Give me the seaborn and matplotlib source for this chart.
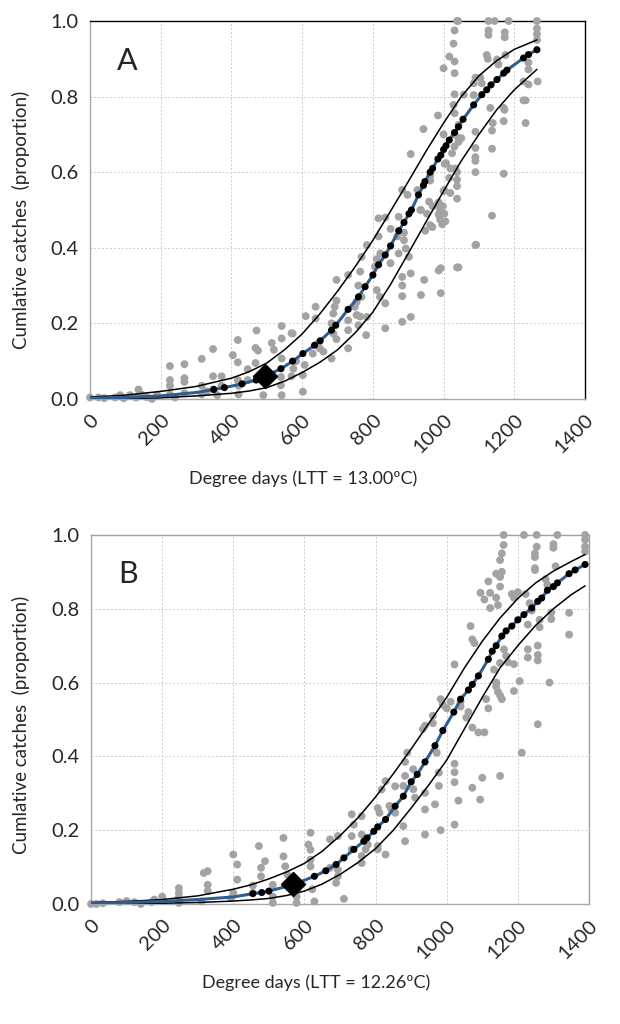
import matplotlib
matplotlib.use("Agg")
import matplotlib.pyplot as plt
import seaborn as sns
import numpy as np
import pandas as pd

# ---------------- Panel A data (LTT = 13.00ºC) ----------------
a_obs_x = [0, 24, 40, 71, 85, 95, 113, 130, 137, 145, 160, 175, 190,
           226, 226, 226, 226, 240, 267, 267, 267, 267,
           316, 316, 316, 330, 348, 348, 348, 360, 372, 372,
           404, 418, 418, 418, 420, 420, 446, 446, 471, 468, 475, 468,
           490, 514, 520, 542, 542, 542, 542, 570, 570,
           540, 540, 573, 583, 575, 607, 602, 602, 630, 610, 638, 638, 645, 650, 660,
           683, 683, 688, 697, 697, 697, 692, 688, 730, 764, 759, 768, 811, 820, 835,
           754, 749, 754, 764, 783, 781, 835, 730, 730, 759, 730,
           816, 835, 873, 850, 888, 869, 888, 816, 811, 821, 806, 783, 768, 850, 873,
           902, 893, 883, 907, 883, 883, 936, 945, 992, 992, 883, 907, 907, 883, 898,
           926, 936, 959, 969, 1007, 1002, 998, 1002, 1005, 1042, 1092,
           1038, 1041, 1031, 1028, 1016, 1031, 1031, 1000, 1127, 1144, 1127, 1127,
           1173, 1173, 1184, 1264, 1264, 1264, 1264, 1122, 1125, 1151, 1155, 1090,
           1104, 1085, 1108, 1175, 1240, 1240, 1226, 1240, 1031, 1057, 1085, 1028,
           1031, 984, 1132, 1170, 1172, 1226, 943, 1000, 1031, 1042, 1139, 1170,
           1137, 1090, 1050, 1042, 1042, 1031, 1137, 1024, 1090, 1090, 1090, 1003,
           1019, 1033, 1038, 1090, 1170, 962, 962, 1016, 1038, 1038, 1000, 1019,
           1038, 986, 986, 990, 986, 990, 996, 934, 953, 962, 948, 968, 1137, 1090,
           986, 1038, 1232, 1232, 1266]
a_obs_y = [0.004, 0.004, 0.002, 0.004, 0.01, 0.002, 0.01, 0.004, 0.025, 0.012, 0.005, 0.0, 0.01,
           0.087, 0.05, 0.035, 0.012, 0.004, 0.092, 0.055, 0.045, 0.015,
           0.106, 0.035, 0.012, 0.02, 0.132, 0.06, 0.025, 0.01, 0.06, 0.035,
           0.116, 0.156, 0.097, 0.05, 0.035, 0.012, 0.079, 0.05, 0.181, 0.135, 0.128, 0.095,
           0.01, 0.148, 0.13, 0.193, 0.16, 0.107, 0.01, 0.174, 0.06,
           0.058, 0.036, 0.173, 0.10, 0.08, 0.09, 0.063, 0.019, 0.12, 0.219, 0.244, 0.213, 0.147, 0.134, 0.125,
           0.107, 0.2, 0.173, 0.158, 0.315, 0.26, 0.244, 0.226, 0.328, 0.337, 0.30, 0.27, 0.288, 0.27, 0.253,
           0.257, 0.244, 0.222, 0.218, 0.217, 0.169, 0.187, 0.208, 0.182, 0.195, 0.134,
           0.478, 0.48, 0.482, 0.45, 0.44, 0.43, 0.42, 0.43, 0.37, 0.385, 0.35, 0.407, 0.376, 0.359, 0.385,
           0.376, 0.398, 0.323, 0.332, 0.30, 0.272, 0.275, 0.315, 0.346, 0.28, 0.204, 0.217, 0.648, 0.553, 0.54,
           0.553, 0.50, 0.522, 0.51, 0.624, 0.553, 0.51, 0.49, 0.47, 0.348, 0.408,
           1.0, 1.0, 0.975, 0.94, 0.906, 0.893, 0.862, 0.875, 1.0, 1.0, 0.975, 0.963,
           0.97, 0.957, 1.0, 1.0, 0.98, 0.965, 0.95, 0.91, 0.9, 0.898, 0.885, 0.85,
           0.85, 0.835, 0.835, 0.91, 0.89, 0.872, 0.84, 0.832, 0.806, 0.805, 0.804, 0.778,
           0.756, 0.75, 0.77, 0.77, 0.765, 0.79, 0.714, 0.70, 0.70, 0.725, 0.73, 0.735,
           0.71, 0.707, 0.69, 0.68, 0.69, 0.668, 0.662, 0.65, 0.664, 0.64, 0.63, 0.622,
           0.61, 0.61, 0.6, 0.6, 0.596, 0.59, 0.578, 0.585, 0.58, 0.563, 0.55, 0.545,
           0.53, 0.52, 0.51, 0.497, 0.488, 0.475, 0.462, 0.50, 0.49, 0.46, 0.445, 0.455, 0.485, 0.407,
           0.34, 0.348, 0.79, 0.73, 0.84]

a_fit_x = [0, 100, 200, 300, 350, 380, 430, 470, 500, 540, 573, 602, 635, 651, 683, 695,
           730, 759, 778, 800, 816, 835, 850, 873, 888, 902, 909, 929, 943, 947, 962,
           969, 984, 992, 1000, 1007, 1016, 1031, 1042, 1055, 1085, 1108, 1122, 1134,
           1151, 1170, 1179, 1226, 1240, 1264]
a_fit_y = [0.002, 0.004, 0.008, 0.017, 0.025, 0.03, 0.04, 0.05, 0.062, 0.08, 0.1, 0.12, 0.142, 0.154, 0.182, 0.195,
           0.237, 0.27, 0.297, 0.328, 0.355, 0.381, 0.405, 0.445, 0.467, 0.49, 0.50, 0.54, 0.565, 0.575, 0.60,
           0.61, 0.635, 0.645, 0.66, 0.67, 0.685, 0.705, 0.72, 0.74, 0.778, 0.805, 0.818, 0.831,
           0.845, 0.862, 0.87, 0.902, 0.911, 0.924]

a_upper_x = [0, 100, 200, 300, 400, 450, 500, 550, 600, 650, 700, 750, 800, 850,
             900, 950, 1000, 1050, 1100, 1150, 1200, 1264]
a_upper_y = [0.005, 0.01, 0.02, 0.033, 0.055, 0.072, 0.095, 0.13, 0.172, 0.225, 0.285, 0.35, 0.42, 0.497,
             0.575, 0.655, 0.73, 0.80, 0.855, 0.895, 0.925, 0.95]
a_lower_x = [0, 100, 200, 300, 400, 450, 500, 550, 600, 650, 700, 750, 800, 850,
             900, 950, 1000, 1050, 1100, 1150, 1200, 1264]
a_lower_y = [0.0, 0.001, 0.003, 0.008, 0.015, 0.021, 0.03, 0.047, 0.07, 0.097, 0.13, 0.175, 0.23, 0.303,
             0.385, 0.468, 0.55, 0.63, 0.70, 0.765, 0.818, 0.872]

a_mark = (495, 0.061)

# ---------------- Panel B data (LTT = 12.26ºC) ----------------
b_obs_x = [0, 15, 33, 80, 100, 122, 140, 170, 178, 200, 205,
           247, 247, 247, 247, 317, 328, 328, 328, 311,
           394, 400, 400, 411, 411, 455, 455, 472, 478, 478, 489, 511, 511, 511,
           541, 541, 546, 552, 578, 578, 617, 611, 617, 617, 617, 622, 628,
           672, 672, 694, 694, 694, 689, 711, 733, 739, 733, 733, 761, 761, 761, 761,
           772, 778, 806, 806, 806, 817, 811, 828, 828, 839, 844, 855, 855,
           878, 883, 883, 883, 878, 906, 906, 911, 939, 939, 939, 967, 978, 978, 983, 972,
           1022, 1022, 1022, 1033, 1022, 1072, 1094, 1100, 1150, 1211,
           1160, 1160, 1155, 1150, 1155, 1150, 1150, 1117, 1139, 1253, 1253, 1248, 1248, 1248, 1248,
           1300, 1300, 1311, 1389, 1389, 1389, 1389, 1217, 1183, 1189, 1200, 1222, 1233, 1239,
           1278, 1283, 1306, 1095, 1106, 1122, 1144, 1067, 1072, 1078, 1022, 1122, 1139,
           983, 989, 1000, 1011, 1039, 1039, 933, 939, 889, 961, 961, 1061, 1055, 1072, 1089, 1106,
           1111, 1117, 1139, 1139, 1144, 1150, 1155, 1133, 1150, 1161, 1167, 1172, 1189, 1205,
           1228, 1228, 1256, 1256, 1256, 1228, 1261, 1261, 1294, 1294, 1289, 1344, 1344, 1256, 1189]
b_obs_y = [0.0, 0.0, 0.002, 0.005, 0.008, 0.005, 0.0, 0.005, 0.012, 0.02, 0.008,
           0.043, 0.03, 0.018, 0.003, 0.084, 0.089, 0.052, 0.035, 0.007,
           0.016, 0.03, 0.134, 0.107, 0.066, 0.05, 0.03, 0.157, 0.098, 0.075, 0.116, 0.052, 0.02, 0.003,
           0.179, 0.129, 0.102, 0.08, 0.003, 0.02, 0.193, 0.161, 0.147, 0.12, 0.102, 0.04, 0.007,
           0.175, 0.098, 0.184, 0.093, 0.075, 0.057, 0.014, 0.243, 0.215, 0.184, 0.148, 0.238, 0.188, 0.13, 0.111,
           0.148, 0.161, 0.26, 0.157, 0.148, 0.31, 0.247, 0.333, 0.134, 0.266, 0.257, 0.319, 0.247,
           0.211, 0.17, 0.385, 0.347, 0.32, 0.365, 0.311, 0.288, 0.301, 0.188, 0.256, 0.27, 0.356, 0.32, 0.2, 0.41,
           0.38, 0.357, 0.33, 0.28, 0.215, 0.315, 0.283, 0.342, 0.347, 0.41,
           1.0, 0.973, 0.95, 0.932, 0.90, 0.886, 0.86, 0.874, 0.895, 1.0, 0.968, 0.95, 0.94, 0.91, 0.905,
           0.975, 0.965, 1.0, 1.0, 0.987, 0.968, 0.955, 1.0, 0.84, 0.83, 0.845, 0.84, 0.815, 0.795,
           0.88, 0.865, 0.915, 0.843, 0.825, 0.802, 0.81, 0.753, 0.717, 0.707, 0.649, 0.843, 0.83,
           0.555, 0.54, 0.53, 0.548, 0.548, 0.535, 0.474, 0.483, 0.41, 0.51, 0.49, 0.52, 0.505, 0.478, 0.465, 0.465,
           0.555, 0.53, 0.6, 0.59, 0.575, 0.565, 0.555, 0.635, 0.653, 0.69, 0.672, 0.655, 0.65, 0.604,
           0.69, 0.668, 0.7, 0.675, 0.66, 0.757, 0.77, 0.75, 0.79, 0.772, 0.6, 0.789, 0.73, 0.487, 0.577]

b_fit_x = [0, 100, 200, 300, 400, 455, 480, 500, 567, 628, 660, 689, 711, 739, 767, 776,
           795, 806, 828, 855, 878, 900, 917, 939, 967, 989, 1020, 1039, 1061, 1072, 1089,
           1117, 1128, 1139, 1155, 1167, 1183, 1200, 1217, 1239, 1256, 1267, 1283, 1300,
           1311, 1344, 1361, 1389]
b_fit_y = [0.002, 0.004, 0.007, 0.012, 0.019, 0.028, 0.031, 0.035, 0.052, 0.075, 0.09, 0.107, 0.125, 0.148, 0.17, 0.179,
           0.197, 0.209, 0.229, 0.265, 0.292, 0.331, 0.351, 0.385, 0.429, 0.47, 0.52, 0.555, 0.58, 0.595, 0.618,
           0.663, 0.685, 0.70, 0.726, 0.74, 0.753, 0.77, 0.784, 0.802, 0.82, 0.829, 0.85, 0.86,
           0.87, 0.895, 0.905, 0.92]

b_upper_x = [0, 100, 200, 300, 400, 450, 500, 550, 600, 650, 700, 750, 800, 850, 900,
             950, 1000, 1050, 1100, 1150, 1200, 1250, 1300, 1350, 1389]
b_upper_y = [0.004, 0.007, 0.012, 0.022, 0.04, 0.052, 0.068, 0.087, 0.11, 0.143, 0.185, 0.233, 0.29, 0.353, 0.42,
             0.49, 0.56, 0.64, 0.712, 0.775, 0.828, 0.87, 0.902, 0.928, 0.947]
b_lower_x = [0, 100, 200, 300, 400, 450, 500, 550, 600, 650, 700, 750, 800, 850, 900,
             950, 1000, 1050, 1100, 1150, 1200, 1250, 1300, 1350, 1389]
b_lower_y = [0.0, 0.001, 0.002, 0.004, 0.008, 0.011, 0.015, 0.023, 0.035, 0.054, 0.08, 0.112, 0.15, 0.20, 0.26,
             0.323, 0.39, 0.475, 0.56, 0.64, 0.70, 0.755, 0.80, 0.838, 0.862]

b_mark = (568, 0.055)

GREY = "#A3A3A3"
BLUE = "#2F5D8F"


def draw_panel(ax, obs_x, obs_y, fit_x, fit_y, up_x, up_y, lo_x, lo_y, mark,
               letter, xlabel, dot_from, top_col, xlab_pos, ylab_pos):
    obs = pd.DataFrame({"x": obs_x, "y": obs_y})
    fit = pd.DataFrame({"x": fit_x, "y": fit_y})

    sns.scatterplot(data=obs, x="x", y="y", ax=ax, color=GREY, s=32,
                    edgecolor="none", zorder=3, clip_on=False)
    sns.lineplot(x=up_x, y=up_y, ax=ax, color="black", lw=1.1, zorder=4)
    sns.lineplot(x=lo_x, y=lo_y, ax=ax, color="black", lw=1.1, zorder=4)
    sns.lineplot(data=fit, x="x", y="y", ax=ax, color=BLUE, lw=2.2, zorder=5)
    dots = fit[fit["x"] >= dot_from]
    sns.scatterplot(data=dots, x="x", y="y", ax=ax, color="black", s=26,
                    edgecolor="none", zorder=6)
    ax.scatter([mark[0]], [mark[1]], marker="D", s=150, color="black", zorder=7)

    ax.set_xlim(0, 1400)
    ax.set_ylim(0, 1.0)
    ax.set_xticks(range(0, 1401, 200))
    ax.set_yticks(np.arange(0, 1.01, 0.2))
    ax.set_yticklabels([f"{v:.1f}" for v in np.arange(0, 1.01, 0.2)])
    ax.grid(True, color="#CCCCCC", linestyle=(0, (2, 2)), lw=0.7)
    ax.set_axisbelow(True)
    for lab in ax.get_xticklabels():
        lab.set_rotation(45)
        lab.set_ha("right")
        lab.set_rotation_mode("anchor")
    ax.tick_params(axis="both", labelsize=14.5, length=5, color="#999999", direction="out")
    ax.tick_params(axis="x", pad=4)
    ax.tick_params(axis="y", pad=3)
    ax.set_xlabel(xlabel, fontsize=13)
    ax.set_ylabel("Cumlative catches  (proportion)", fontsize=13.5)
    ax.xaxis.set_label_coords(xlab_pos, -0.19)
    ax.yaxis.set_label_coords(-0.122, ylab_pos)
    for side in ["left", "bottom"]:
        ax.spines[side].set_color("#A8A8A8")
    for side in ["top", "right"]:
        ax.spines[side].set_color(top_col)
    for sp in ax.spines.values():
        sp.set_linewidth(1.0)
    ax.text(105, 0.895, letter, fontsize=22, ha="center", va="center")


sns.set_style("white")
plt.rcParams["font.family"] = ["Lato", "DejaVu Sans"]

fig = plt.figure(figsize=(6.2, 10.24), dpi=100)
ax_a = fig.add_axes([0.1452, 0.6104, 0.7984, 0.3691])
ax_b = fig.add_axes([0.1468, 0.1172, 0.8032, 0.3604])

draw_panel(ax_a, a_obs_x, a_obs_y, a_fit_x, a_fit_y, a_upper_x, a_upper_y,
           a_lower_x, a_lower_y, a_mark, "A", "Degree days (LTT = 13.00ºC)", 340, "black",
           0.43, 0.474)
draw_panel(ax_b, b_obs_x, b_obs_y, b_fit_x, b_fit_y, b_upper_x, b_upper_y,
           b_lower_x, b_lower_y, b_mark, "B", "Degree days (LTT = 12.26ºC)", 440, "#A0A0A0",
           0.452, 0.485)

fig.savefig("out.png", dpi=100)
plt.close(fig)
